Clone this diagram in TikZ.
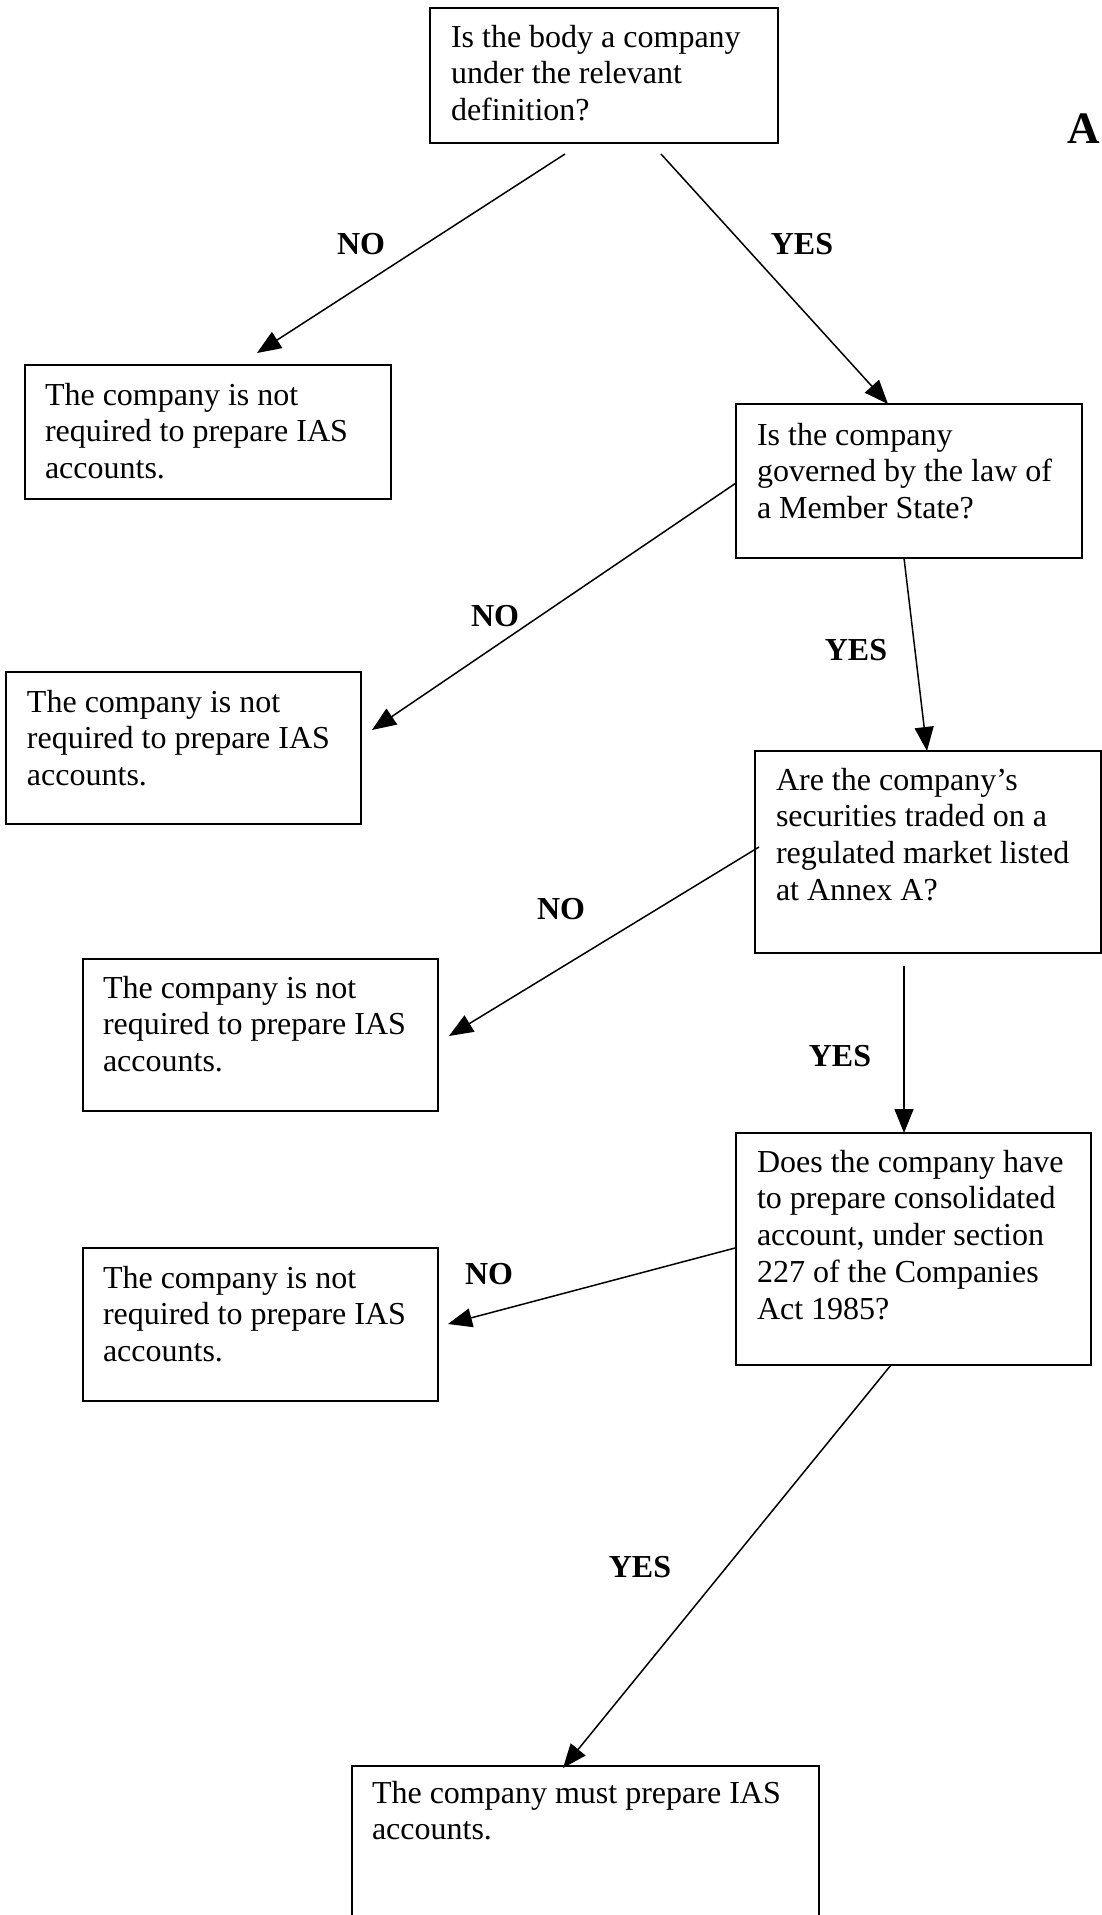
\documentclass[tikz,border=0pt]{standalone}
\usepackage{fontspec}
\setmainfont{Liberation Serif}
\usetikzlibrary{arrows.meta}
\newcommand{\bxt}[1]{\begin{tabular}[t]{@{}l@{}}#1\end{tabular}}
\begin{document}
\begin{tikzpicture}[x=1pt,y=-1pt,
  box/.style={draw, line width=1.9pt, inner sep=0pt, outer sep=0pt, anchor=north west},
  txt/.style={inner sep=0pt, outer sep=0pt, anchor=base west, font=\fontsize{32}{36.8}\selectfont},
  lbl/.style={inner sep=0pt, font=\fontsize{32}{36.8}\selectfont\bfseries},
  arr/.style={line width=1.5pt, -{Triangle[length=24pt,width=19pt]}}]
\useasboundingbox (0,0) rectangle (1102,1915);
\clip (0,0) rectangle (1102,1915);

% boxes
\node[box, minimum width=348pt, minimum height=135pt] (b1) at (430,8) {};
\node[box, minimum width=366pt, minimum height=134pt] (b2) at (25,365) {};
\node[box, minimum width=346pt, minimum height=154pt] (b3) at (736,404) {};
\node[box, minimum width=355pt, minimum height=152pt] (b4) at (6,672) {};
\node[box, minimum width=346pt, minimum height=202pt] (b5) at (755,751) {};
\node[box, minimum width=355pt, minimum height=152pt] (b6) at (83,959) {};
\node[box, minimum width=355pt, minimum height=232pt] (b7) at (736,1133) {};
\node[box, minimum width=355pt, minimum height=153pt] (b8) at (83,1248) {};
\node[box, minimum width=467pt, minimum height=220pt] (b9) at (352,1766) {};

% texts
\node[txt] (t1) at (451,47) {\bxt{Is the body a company\\under the relevant\\definition?}};
\node[txt] (t2) at (45,405) {\bxt{The company is not\\required to prepare IAS\\accounts.}};
\node[txt] (t3) at (757,445) {\bxt{Is the company\\governed by the law of\\a Member State?}};
\node[txt] (t4) at (27,712) {\bxt{The company is not\\required to prepare IAS\\accounts.}};
\node[txt] (t5) at (776,790) {\bxt{Are the company’s\\securities traded on a\\regulated market listed\\at Annex A?}};
\node[txt] (t6) at (103,998) {\bxt{The company is not\\required to prepare IAS\\accounts.}};
\node[txt] (t7) at (757,1172) {\bxt{Does the company have\\to prepare consolidated\\account, under section\\227 of the Companies\\Act 1985?}};
\node[txt] (t8) at (103,1288) {\bxt{The company is not\\required to prepare IAS\\accounts.}};
\node[txt] (t9) at (372,1803) {\bxt{The company must prepare IAS\\accounts.}};

% corner letter
\node[inner sep=0pt, anchor=base west, font=\fontsize{45}{50}\selectfont\bfseries] (corner) at (1067,143) {A};

% connector ends
\coordinate (s1) at (565,154);  \coordinate (e1) at (257,353);
\coordinate (s2) at (661,154);  \coordinate (e2) at (888,404);
\coordinate (s3) at (736,483);  \coordinate (e3) at (372,730);
\coordinate (s4) at (904,558);  \coordinate (e4) at (927,751);
\coordinate (s5) at (759,847);  \coordinate (e5) at (449,1036);
\coordinate (s6) at (904,966);  \coordinate (e6) at (904,1133);
\coordinate (s7) at (735,1248); \coordinate (e7) at (448,1324);
\coordinate (s8) at (891,1365); \coordinate (e8) at (563,1768);

\draw[arr] (s1) -- (e1);
\draw[arr] (s2) -- (e2);
\draw[arr] (s3) -- (e3);
\draw[arr] (s4) -- (e4);
\draw[arr] (s5) -- (e5);
\draw[arr] (s6) -- (e6);
\draw[arr] (s7) -- (e7);
\draw[arr] (s8) -- (e8);

% labels
\node[lbl] (n1) at (361,244) {NO};
\node[lbl] (y1) at (802,244) {YES};
\node[lbl] (n2) at (495,616) {NO};
\node[lbl] (y2) at (856,650) {YES};
\node[lbl] (n3) at (561,909) {NO};
\node[lbl] (y3) at (840,1056) {YES};
\node[lbl] (n4) at (489,1274) {NO};
\node[lbl] (y4) at (640,1567) {YES};
\end{tikzpicture}
\end{document}
